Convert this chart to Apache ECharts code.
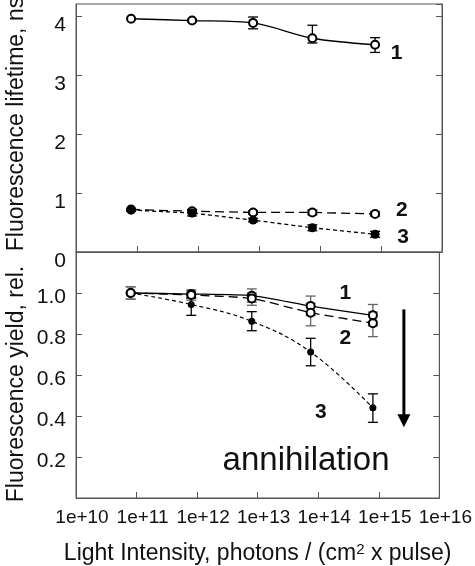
<!DOCTYPE html>
<html><head><meta charset="utf-8">
<script src="https://cdn.jsdelivr.net/npm/echarts@6/dist/echarts.min.js"></script>
<style>html,body{margin:0;padding:0;background:#fff}#c{width:475px;height:566px}</style>
</head><body><div id="c"></div>
<script>
// ---- data ----
const xTicks = [1e10, 1e11, 1e12, 1e13, 1e14, 1e15, 1e16];
const intensity = [8e10, 8e11, 8e12, 7.5e13, 8e14];

// Fluorescence lifetime, ns
const life1   = [3.95, 3.92, 3.88, 3.62, 3.51];
const life1Lo = [3.95, 3.90, 3.78, 3.54, 3.38];
const life1Hi = [3.95, 3.94, 3.98, 3.84, 3.63];
const life2   = [0.72, 0.69, 0.67, 0.67, 0.645];
const life2Lo = [0.72, 0.66, 0.64, 0.63, 0.61];
const life2Hi = [0.72, 0.72, 0.70, 0.71, 0.68];
const life3   = [0.71, 0.66, 0.54, 0.41, 0.30];
const life3Lo = [0.69, 0.61, 0.51, 0.36, 0.25];
const life3Hi = [0.73, 0.71, 0.57, 0.46, 0.35];

// Fluorescence yield, rel.
const yield1   = [1.0, 0.995, 0.987, 0.936, 0.891];
const yield1Lo = [0.97, 0.975, 0.955, 0.89, 0.84];
const yield1Hi = [1.03, 1.015, 1.02, 0.985, 0.944];
const yield2   = [1.0, 0.99, 0.973, 0.904, 0.853];
const yield2Lo = [0.97, 0.965, 0.94, 0.84, 0.787];
const yield2Hi = [1.03, 1.01, 1.0, 0.95, 0.907];
const yield3   = [1.0, 0.944, 0.862, 0.712, 0.44];
const yield3Lo = [1.0, 0.891, 0.816, 0.645, 0.369];
const yield3Hi = [1.0, 0.976, 0.909, 0.779, 0.508];

// annotations (data coordinates)
const topLabels = [[1.8e15, 3.37, '1'], [2.2e15, 0.71, '2'], [2.3e15, 0.25, '3']];
const botLabels = [[2.8e14, 1.0, '1'], [2.8e14, 0.78, '2'], [1.1e14, 0.42, '3']];
const arrowData = [[2.6e15, 0.92, 0.345]];
const noteData = [[6.3e13, 0.18, 'annihilation']];

// ---- build ----
const FONT = 'Liberation Sans, Arial, sans-serif';
const AX = '#555';
const pairs = (xs, ys) => xs.map((x, i) => [x, ys[i]]);
const errs = (xs, lo, hi) => xs.map((x, i) => [x, lo[i], hi[i]]);

function errSeries(idx, data, color) {
  return {
    type: 'custom', xAxisIndex: idx, yAxisIndex: idx * 2, z: 1,
    encode: { x: 0, y: [1, 2] },
    data: data,
    renderItem: (params, api) => {
      const x = api.value(0), lo = api.value(1), hi = api.value(2);
      if (lo === hi) return null;
      const a = api.coord([x, hi]), b = api.coord([x, lo]);
      const w = 5;
      const st = { stroke: color, lineWidth: 1.3 };
      return { type: 'group', children: [
        { type: 'line', shape: { x1: a[0], y1: a[1], x2: b[0], y2: b[1] }, style: st },
        { type: 'line', shape: { x1: a[0] - w, y1: a[1], x2: a[0] + w, y2: a[1] }, style: st },
        { type: 'line', shape: { x1: b[0] - w, y1: b[1], x2: b[0] + w, y2: b[1] }, style: st }
      ] };
    }
  };
}
function lineSeries(idx, data, filled, opt) {
  return Object.assign({
    type: 'line', xAxisIndex: idx, yAxisIndex: idx * 2, data: data,
    symbol: filled ? 'circle' : 'emptyCircle',
    symbolSize: 8, showSymbol: true, animation: false,
    lineStyle: { color: '#000', width: 1.3 },
    itemStyle: { color: '#000', borderWidth: 1.3 }
  }, opt);
}
function textSeries(idx, data, font) {
  return {
    type: 'custom', xAxisIndex: idx, yAxisIndex: idx * 2, z: 10,
    data: data.map(d => [d[0], d[1]]),
    renderItem: (params, api) => {
      const p = api.coord([api.value(0), api.value(1)]);
      return { type: 'text', x: p[0], y: p[1],
        style: { text: data[params.dataIndex][2], font: font, fill: '#111', align: 'center', verticalAlign: 'middle' } };
    }
  };
}

function xAxis(idx, showLabel) {
  return {
    type: 'log', logBase: 10, gridIndex: idx, min: 1e10, max: 1e16,
    axisLine: { show: true, lineStyle: { color: AX } },
    axisTick: { show: true, inside: true, length: 6, lineStyle: { color: AX }, customValues: xTicks },
    splitLine: { show: false }, minorTick: { show: false },
    axisLabel: { show: showLabel, customValues: xTicks, fontFamily: FONT, fontSize: 19, color: '#111',
      margin: 10, padding: [0, 0, 0, 12],
      formatter: v => '1e+' + Math.round(Math.log10(v)) },
    name: showLabel ? '{a|Light Intensity, photons / (cm}{s|2}{a| x pulse)}' : '',
    nameLocation: 'middle', nameGap: 44,
    nameTextStyle: { rich: {
      a: { fontFamily: FONT, fontSize: 23, color: '#111' },
      s: { fontFamily: FONT, fontSize: 15, color: '#111', verticalAlign: 'top', padding: [0, 0, 6, 0] }
    } }
  };
}
function yAxis(idx, pos, min, max, interval, showLabel, fs, lh, fmt) {
  return {
    type: 'value', gridIndex: idx, position: pos, min: min, max: max, interval: interval,
    axisLine: { show: true, lineStyle: { color: AX } },
    axisTick: { show: true, inside: true, length: 6, lineStyle: { color: AX } },
    splitLine: { show: false },
    axisLabel: { show: showLabel, fontFamily: FONT, fontSize: fs, color: '#111', margin: 10,
      verticalAlign: 'top', lineHeight: lh, showMaxLabel: false, formatter: fmt }
  };
}

const option = {
  animation: false,
  backgroundColor: '#fff',
  grid: [
    { left: 76, right: 33, top: 4, height: 248, show: true, borderColor: AX, borderWidth: 1 },
    { left: 76, right: 33, top: 252, height: 249, show: true, borderColor: AX, borderWidth: 1 }
  ],
  xAxis: [xAxis(0, false), xAxis(1, true)],
  yAxis: [
    yAxis(0, 'left', 0, 4.2, 1, true, 21, 18, v => String(v)),
    yAxis(0, 'right', 0, 4.2, 1, false, 21, 18),
    yAxis(1, 'left', 0, 1.2, 0.2, true, 21, 8, v => (v < 0.1 || v > 1.1) ? '' : v.toFixed(1)),
    yAxis(1, 'right', 0, 1.2, 0.2, false, 21, 8)
  ],
  graphic: [
    { type: 'text', x: 17, y: 124, rotation: Math.PI / 2,
      style: { text: 'Fluorescence lifetime, ns', font: '23px ' + FONT, fill: '#111', align: 'center', verticalAlign: 'middle' } },
    { type: 'text', x: 17, y: 384, rotation: Math.PI / 2,
      style: { text: 'Fluorescence yield, rel.', font: '23px ' + FONT, fill: '#111', align: 'center', verticalAlign: 'middle' } }
  ],
  series: [
    // top panel
    errSeries(0, errs(intensity, life1Lo, life1Hi), '#000'),
    errSeries(0, errs(intensity, life2Lo, life2Hi), '#000'),
    errSeries(0, errs(intensity, life3Lo, life3Hi), '#000'),
    lineSeries(0, pairs(intensity, life1), false, { smooth: 0.3, z: 3 }),
    lineSeries(0, pairs(intensity, life2), false, { z: 3, lineStyle: { color: '#000', width: 1.3, type: [9, 5] } }),
    lineSeries(0, pairs(intensity, life3), true, { z: 5, symbolSize: 9, lineStyle: { color: '#000', width: 1.3, type: [4, 3] } }),
    textSeries(0, topLabels, 'bold 21px ' + FONT),
    // bottom panel
    errSeries(1, errs(intensity, yield1Lo, yield1Hi), '#666'),
    errSeries(1, errs(intensity, yield2Lo, yield2Hi), '#666'),
    errSeries(1, errs(intensity, yield3Lo, yield3Hi), '#000'),
    lineSeries(1, pairs(intensity, yield3), true, { smooth: 0.4, z: 2, symbolSize: 7,
      lineStyle: { color: '#000', width: 1.2, type: [4, 3] } }),
    lineSeries(1, pairs(intensity, yield1), false, { smooth: 0.2, z: 3 }),
    lineSeries(1, pairs(intensity, yield2), false, { smooth: 0.2, z: 4, lineStyle: { color: '#000', width: 1.3, type: [9, 5] } }),
    textSeries(1, botLabels, 'bold 21px ' + FONT),
    textSeries(1, noteData, '33px ' + FONT),
    {
      type: 'custom', xAxisIndex: 1, yAxisIndex: 2, z: 10, data: arrowData,
      renderItem: (params, api) => {
        const a = api.coord([api.value(0), api.value(1)]);
        const b = api.coord([api.value(0), api.value(2)]);
        return { type: 'group', children: [
          { type: 'line', shape: { x1: a[0], y1: a[1], x2: b[0], y2: b[1] - 10 }, style: { stroke: '#000', lineWidth: 3 } },
          { type: 'polygon', shape: { points: [[b[0] - 6.5, b[1] - 13], [b[0] + 6.5, b[1] - 13], [b[0], b[1]]] }, style: { fill: '#000' } }
        ] };
      }
    }
  ]
};
const chart = echarts.init(document.getElementById('c'), null, { renderer: 'canvas' });
chart.setOption(option);
</script></body></html>
